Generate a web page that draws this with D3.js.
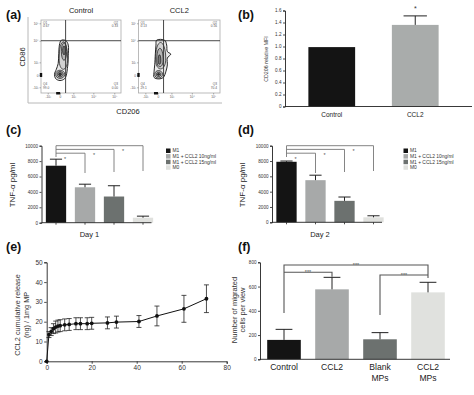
<!DOCTYPE html>
<html><head><meta charset="utf-8">
<script src="https://cdn.jsdelivr.net/npm/d3@7"></script>
<style>body{margin:0;background:#fff}svg{display:block;font-family:"Liberation Sans",Arial,sans-serif}</style>
</head><body><svg id="c" width="474" height="395"></svg>
<script>
// ---------- DATA ----------
// (a) flow cytometry
const flowSamples = ["Control", "CCL2"];
const flowTicks = [-1, 0, 1, 2, 3];
const flowTickLabels = ["-10³", "0", "10³", "10⁴", "10⁵"];
const flowGateX = 0.42, flowGateY = 2;
const flowQuadControl = ["Q1\n0.67", "Q2\n0.33", "Q3\n0.00", "Q4\n99.0"];
const flowQuadCCL2 = ["Q1\n0.13", "Q2\n0.56", "Q3\n70.4", "Q4\n29.1"];
const outlineControl = [[0.1,2.03],[0.45,2.0],[0.62,1.8],[0.62,1.3],[0.6,0.9],[0.55,0.5],[0.5,0.1],[0.35,-0.3],[0.0,-0.45],[-0.35,-0.3],[-0.45,0.05],[-0.3,0.45],[-0.15,0.9],[-0.1,1.4],[-0.05,1.8]];
const ringsControl = [[0.25,1.2,0.32,0.75],[0.3,1.5,0.2,0.4],[0.3,1.55,0.1,0.2],[0.0,0.05,0.36,0.33],[0.0,0.05,0.24,0.22],[0.0,0.05,0.11,0.11]];
const outlineCCL2 = [[-0.1,2.03],[0.5,2.03],[0.65,1.8],[0.7,1.5],[0.95,1.38],[0.7,1.2],[0.7,0.8],[0.6,0.3],[0.4,-0.2],[0.05,-0.32],[-0.3,-0.2],[-0.3,0.3],[-0.25,0.8],[-0.2,1.4],[-0.15,1.8]];
const ringsCCL2 = [[0.2,1.2,0.38,0.72],[0.15,1.15,0.24,0.5],[0.12,1.1,0.1,0.25],[0.05,0.05,0.3,0.3],[0.05,0.05,0.18,0.18],[0.05,0.05,0.08,0.08]];

// (b)
const bCats = ["Control", "CCL2"];
const bValues = [0.99, 1.36];
const bErr = [0, 0.15];
const bTicks = [0, 0.2, 0.4, 0.6, 0.8, 1.0, 1.2, 1.4, 1.6];

// (c) / (d)
const tnfGroups = ["M1", "M1 + CCL2 10ng/ml", "M1 + CCL2 15ng/ml", "M0"];
const day1Values = [7400, 4600, 3400, 650];
const day1Err = [850, 400, 1400, 200];
const day2Values = [7900, 5500, 2800, 650];
const day2Err = [100, 650, 500, 200];
const tnfTicks = [0, 2000, 4000, 6000, 8000, 10000];

// (e)
const eTime = [0, 1, 2, 3, 4, 5, 6, 8, 10, 13, 15, 18, 20, 27, 31, 41, 49, 61, 71];
const eRelease = [0, 13.5, 15, 16.5, 17.3, 17.8, 18, 18.4, 18.6, 19, 19, 19, 19.2, 19.4, 19.8, 20.1, 22.9, 26.5, 31.6];
const eSD = [0, 1.5, 2, 2.5, 3, 3, 3, 3, 3, 3, 3, 3, 3, 3, 3, 3, 5, 6.8, 7];
const eXTicks = [0, 20, 40, 60, 80];
const eYTicks = [0, 10, 20, 30, 40, 50];

// (f)
const fCats = [["Control"], ["CCL2"], ["Blank", "MPs"], ["CCL2", "MPs"]];
const fValues = [160, 577, 165, 552];
const fErr = [87, 99, 55, 83];
const fTicks = [0, 200, 400, 600, 800];

const barColors = ["#141414", "#a7a9a9", "#6c716f", "#e0e1de"];

// ---------- DRAW ----------
const svg = d3.select("#c");
svg.append("rect").attr("width", 474).attr("height", 395).attr("fill", "#fff");

function panelLabel(t, x, y) {
  svg.append("text").attr("x", x).attr("y", y).attr("font-size", 12.5).attr("font-weight", "bold").attr("fill", "#111").text(t);
}
panelLabel("(a)", 6, 19);
panelLabel("(b)", 238, 19);
panelLabel("(c)", 6, 134);
panelLabel("(d)", 238, 134);
panelLabel("(e)", 6, 251);
panelLabel("(f)", 238, 251);

// ---- (a) ----
const flowBoxes = [{x0: 41, x1: 121}, {x0: 138.5, x1: 220}];
const flowY0 = 20, flowY1 = 93;
const xFrac = [0.084, 0.2375, 0.404, 0.654, 0.916];
const yFrac = [0.078, 0.247, 0.42, 0.716, 0.955];
const line = d3.line().curve(d3.curveCatmullRomClosed.alpha(0.5));
svg.append("path").attr("d", `M28,17V103H222`).attr("fill", "none").attr("stroke", "#b8b8b8").attr("stroke-width", 1);
flowSamples.forEach((s, i) => {
  const b = flowBoxes[i];
  const xs = d3.scaleLinear().domain(flowTicks).range(xFrac.map(f => b.x0 + f * (b.x1 - b.x0)));
  const ys = d3.scaleLinear().domain(flowTicks).range(yFrac.map(f => flowY1 - f * (flowY1 - flowY0)));
  const g = svg.append("g");
  g.append("text").attr("x", (b.x0 + b.x1) / 2).attr("y", 13).attr("text-anchor", "middle").attr("font-size", 7.5).attr("fill", "#222").text(s);
  g.append("rect").attr("x", b.x0).attr("y", flowY0).attr("width", b.x1 - b.x0).attr("height", flowY1 - flowY0).attr("fill", "none").attr("stroke", "#aaa").attr("stroke-width", 0.8);
  const ax = g.append("g").attr("transform", `translate(0,${flowY1})`).call(d3.axisBottom(xs).tickValues(flowTicks).tickFormat((d, k) => flowTickLabels[k]).tickSize(1.5).tickPadding(1));
  const ay = g.append("g").attr("transform", `translate(${b.x0},0)`).call(d3.axisLeft(ys).tickValues(flowTicks).tickFormat((d, k) => flowTickLabels[k]).tickSize(1.5).tickPadding(1));
  [ax, ay].forEach(a => { a.select(".domain").remove(); a.selectAll("line").attr("stroke", "#666").attr("stroke-width", 0.5); a.selectAll("text").attr("font-size", 3.2).attr("fill", "#555"); });
  g.append("rect").attr("x", xs(-0.15) - 2).attr("y", flowY1 - 1).attr("width", 4).attr("height", 2.5).attr("fill", "#111");
  g.append("rect").attr("x", b.x0 - 1.2).attr("y", ys(0) - 2).attr("width", 2.4).attr("height", 4).attr("fill", "#111");
  const outline = i === 0 ? outlineControl : outlineCCL2;
  const rings = i === 0 ? ringsControl : ringsCCL2;
  g.append("path").attr("d", line(outline.map(p => [xs(p[0]), ys(p[1])]))).attr("fill", "#e9e9e9").attr("stroke", "#111").attr("stroke-width", 0.9);
  const fills = ["#d2d2d2", "#b5b5b5", "#7a7a7a", "#cfcfcf", "#a0a0a0", "#3a3a3a"];
  rings.forEach((r, k) => {
    const pts = d3.range(16).map(j => { const a = j / 16 * 2 * Math.PI; return [xs(r[0] + r[2] * Math.cos(a)), ys(r[1] + r[3] * Math.sin(a))]; });
    g.append("path").attr("d", line(pts)).attr("fill", fills[k]).attr("stroke", "#111").attr("stroke-width", 0.7);
  });
  g.append("line").attr("x1", xs(flowGateX)).attr("x2", xs(flowGateX)).attr("y1", flowY0).attr("y2", flowY1).attr("stroke", "#333").attr("stroke-width", 0.9);
  g.append("line").attr("x1", b.x0).attr("x2", b.x1).attr("y1", ys(flowGateY)).attr("y2", ys(flowGateY)).attr("stroke", "#333").attr("stroke-width", 0.9);
  const q = i === 0 ? flowQuadControl : flowQuadCCL2;
  const qpos = [[b.x0 + 2, flowY0 + 3.5, "start"], [b.x1 - 3, flowY0 + 3.5, "end"], [b.x1 - 3, flowY1 - 8, "end"], [b.x0 + 2, flowY1 - 8, "start"]];
  q.forEach((t, k) => {
    t.split("\n").forEach((ln, m) => {
      g.append("text").attr("x", qpos[k][0]).attr("y", qpos[k][1] + m * 3.6).attr("text-anchor", qpos[k][2]).attr("font-size", 3.2).attr("fill", "#555").text(ln);
    });
  });
});
svg.append("text").attr("transform", "translate(25,57) rotate(-90)").attr("text-anchor", "middle").attr("font-size", 7.5).attr("fill", "#222").text("CD86");
svg.append("text").attr("x", 128).attr("y", 114).attr("text-anchor", "middle").attr("font-size", 7.5).attr("fill", "#222").text("CD206");

// ---- generic helpers ----
function styleAxis(a, fs) {
  a.selectAll(".domain").attr("stroke", "#222").attr("stroke-width", 0.9);
  a.selectAll(".tick line").attr("stroke", "#222").attr("stroke-width", 0.8);
  a.selectAll("text").attr("font-size", fs).attr("fill", "#333");
}
function errorBars(g, x, y, cats, vals, errs, capFrac) {
  cats.forEach((c, i) => {
    if (!errs[i]) return;
    const cx = x(c) + x.bandwidth() / 2, cw = x.bandwidth() * capFrac;
    g.append("line").attr("x1", cx).attr("x2", cx).attr("y1", y(vals[i])).attr("y2", y(vals[i] + errs[i])).attr("stroke", "#222").attr("stroke-width", 1);
    g.append("line").attr("x1", cx - cw / 2).attr("x2", cx + cw / 2).attr("y1", y(vals[i] + errs[i])).attr("y2", y(vals[i] + errs[i])).attr("stroke", "#222").attr("stroke-width", 1);
  });
}

// ---- (b) ----
{
  const ax0 = 285, yb = d3.scaleLinear().domain([0, 1.6]).range([106.5, 10.5]);
  const xb = d3.scaleBand().domain(bCats).range([285, 462]).paddingInner(0.44).paddingOuter(0.28);
  const g = svg.append("g");
  g.selectAll("rect.bar").data(bCats).join("rect").attr("x", d => xb(d)).attr("width", xb.bandwidth())
    .attr("y", (d, i) => yb(bValues[i])).attr("height", (d, i) => yb(0) - yb(bValues[i])).attr("fill", (d, i) => i ? "#a9acab" : "#141414");
  errorBars(g, xb, yb, bCats, bValues, bErr, 0.5);
  const ay = g.append("g").attr("transform", `translate(${ax0},0)`).call(d3.axisLeft(yb).tickValues(bTicks).tickFormat(d => d === 0 ? "0" : d3.format(".1f")(d)).tickSize(2).tickPadding(1.5));
  styleAxis(ay, 4.6);
  g.append("line").attr("x1", ax0).attr("x2", 472).attr("y1", yb(0)).attr("y2", yb(0)).attr("stroke", "#222").attr("stroke-width", 0.9);
  bCats.forEach(c => {
    g.append("text").attr("x", xb(c) + xb.bandwidth() / 2).attr("y", 117).attr("text-anchor", "middle").attr("font-size", 6.5).attr("fill", "#222").text(c);
  });
  g.append("text").attr("x", xb("CCL2") + xb.bandwidth() / 2).attr("y", 11).attr("text-anchor", "middle").attr("font-size", 7).attr("fill", "#333").text("*");
  g.append("text").attr("transform", "translate(268,59) rotate(-90)").attr("text-anchor", "middle").attr("font-size", 5.3).attr("fill", "#333").text("CD206 relative MFI");
}

// ---- (c)/(d) ----
function tnfPanel(opts, vals, errs, dayLabel) {
  const y = d3.scaleLinear().domain([0, 10000]).range([opts.y0, 145.7]);
  const x = d3.scaleBand().domain(tnfGroups).range([opts.ax, opts.ax + 116]).paddingInner(0.3).paddingOuter(0.15);
  const g = svg.append("g");
  g.selectAll("rect.bar").data(tnfGroups).join("rect").attr("x", d => x(d)).attr("width", x.bandwidth())
    .attr("y", (d, i) => y(vals[i])).attr("height", (d, i) => y(0) - y(vals[i])).attr("fill", (d, i) => barColors[i]);
  errorBars(g, x, y, tnfGroups, vals, errs, 0.6);
  const ay = g.append("g").attr("transform", `translate(${opts.ax},0)`).call(d3.axisLeft(y).tickValues(tnfTicks).tickFormat(d3.format("d")).tickSize(2).tickPadding(1.5));
  styleAxis(ay, 4.6);
  const axb = g.append("g").attr("transform", `translate(0,${y(0)})`).call(d3.axisBottom(x).tickSize(2).tickFormat(""));
  styleAxis(axb, 4);
  axb.select(".domain").attr("d", `M${opts.ax},0H${opts.ax + 110}`);
  g.append("text").attr("x", opts.ax + 48).attr("y", 237).attr("text-anchor", "middle").attr("font-size", 7.5).attr("fill", "#222").text(dayLabel);
  g.append("text").attr("transform", `translate(${opts.ax - 27},185) rotate(-90)`).attr("text-anchor", "middle").attr("font-size", 8).attr("fill", "#222").text("TNF-α pg/ml");
  const c0 = x(tnfGroups[0]) + x.bandwidth() / 2;
  const tops = [145.7, 149.4, 153.2];
  [3, 2, 1].forEach((k, j) => {
    const ck = x(tnfGroups[k]) + x.bandwidth() / 2;
    g.append("path").attr("d", `M${c0},${tops[j]}H${ck}V${171 + j}`).attr("fill", "none").attr("stroke", "#777").attr("stroke-width", 0.9);
    g.append("text").attr("x", ck - 20).attr("y", tops[j] + 7.5).attr("text-anchor", "middle").attr("font-size", 5.5).attr("fill", "#555").text("*");
  });
  g.append("line").attr("x1", c0).attr("x2", c0).attr("y1", 145.7).attr("y2", 157).attr("stroke", "#777").attr("stroke-width", 0.9);
  tnfGroups.forEach((t, i) => {
    g.append("rect").attr("x", opts.lx).attr("y", 148.5 + i * 5.6).attr("width", 4.5).attr("height", 4.5).attr("fill", barColors[i]);
    g.append("text").attr("x", opts.lx + 6.5).attr("y", 152.4 + i * 5.6).attr("font-size", 4.9).attr("fill", "#333").text(t);
  });
}
tnfPanel({ax: 41.5, y0: 222.7, lx: 166}, day1Values, day1Err, "Day 1");
tnfPanel({ax: 272, y0: 222.3, lx: 403.5}, day2Values, day2Err, "Day 2");

// ---- (e) ----
{
  const x = d3.scaleLinear().domain([0, 80]).range([46.7, 226.7]);
  const y = d3.scaleLinear().domain([0, 50]).range([361.3, 262.3]);
  const g = svg.append("g");
  const ax = g.append("g").attr("transform", `translate(0,${y(0)})`).call(d3.axisBottom(x).tickValues(eXTicks).tickSize(2.5).tickPadding(2));
  styleAxis(ax, 6.5);
  const ay = g.append("g").attr("transform", `translate(${x(0)},0)`).call(d3.axisLeft(y).tickValues(eYTicks).tickSize(2.5).tickPadding(1.5));
  styleAxis(ay, 6.5);
  eTime.forEach((t, i) => {
    if (!eSD[i]) return;
    g.append("line").attr("x1", x(t)).attr("x2", x(t)).attr("y1", y(eRelease[i] - eSD[i])).attr("y2", y(eRelease[i] + eSD[i])).attr("stroke", "#222").attr("stroke-width", 0.8);
    [eRelease[i] - eSD[i], eRelease[i] + eSD[i]].forEach(v => g.append("line").attr("x1", x(t) - 2.5).attr("x2", x(t) + 2.5).attr("y1", y(v)).attr("y2", y(v)).attr("stroke", "#222").attr("stroke-width", 0.8));
  });
  g.append("path").attr("d", d3.line().x((d, i) => x(eTime[i])).y((d, i) => y(eRelease[i]))(eTime)).attr("fill", "none").attr("stroke", "#111").attr("stroke-width", 1);
  g.selectAll("circle").data(eTime).join("circle").attr("cx", d => x(d)).attr("cy", (d, i) => y(eRelease[i])).attr("r", 1.9).attr("fill", "#111");
  const lab = g.append("text").attr("transform", "translate(22,315) rotate(-90)").attr("text-anchor", "middle").attr("font-size", 7.3).attr("fill", "#333");
  lab.append("tspan").attr("x", 0).attr("dy", -2.5).text("CCL2 cumulative release");
  lab.append("tspan").attr("x", 0).attr("dy", 9.5).text("(ng) / 1mg MP");
}

// ---- (f) ----
{
  const y = d3.scaleLinear().domain([0, 800]).range([359.3, 262.3]);
  const keys = fCats.map(d => d.join(" "));
  const x = d3.scaleBand().domain(keys).range([260, 452]).paddingInner(0.3).paddingOuter(0.15);
  const g = svg.append("g");
  g.selectAll("rect.bar").data(keys).join("rect").attr("x", d => x(d)).attr("width", x.bandwidth())
    .attr("y", (d, i) => y(fValues[i])).attr("height", (d, i) => y(0) - y(fValues[i])).attr("fill", (d, i) => barColors[i]);
  errorBars(g, x, y, keys, fValues, fErr, 0.5);
  const ay = g.append("g").attr("transform", `translate(260,0)`).call(d3.axisLeft(y).tickValues(fTicks).tickSize(2).tickPadding(1.5));
  styleAxis(ay, 4.6);
  g.append("line").attr("x1", 260).attr("x2", 450).attr("y1", y(0)).attr("y2", y(0)).attr("stroke", "#222").attr("stroke-width", 0.9);
  fCats.forEach((lines, i) => {
    lines.forEach((t, m) => g.append("text").attr("x", x(keys[i]) + x.bandwidth() / 2).attr("y", 370 + m * 11).attr("text-anchor", "middle").attr("font-size", 8.6).attr("fill", "#222").text(t));
  });
  const cx = k => x(keys[k]) + x.bandwidth() / 2;
  const st = {fill: "none", stroke: "#555", "stroke-width": 1.1};
  const P = d => { const p = g.append("path").attr("d", d); Object.entries(st).forEach(([k, v]) => p.attr(k, v)); };
  P(`M${cx(0)},313V265H${cx(3)}V278`);
  P(`M${cx(0)},272.3H${cx(1)}V276.7`);
  P(`M${cx(2)},315V275H${cx(3)}`);
  [[ (cx(0) + cx(3)) / 2, 266.5], [(cx(0) + cx(1)) / 2, 273.8], [(cx(2) + cx(3)) / 2, 276.5]].forEach(p => {
    g.append("text").attr("x", p[0]).attr("y", p[1]).attr("text-anchor", "middle").attr("font-size", 5.5).attr("fill", "#555").text("***");
  });
  const lab = g.append("text").attr("transform", "translate(237.5,310) rotate(-90)").attr("text-anchor", "middle").attr("font-size", 7.5).attr("fill", "#333");
  lab.append("tspan").attr("x", 0).attr("dy", -1).text("Number of migrated");
  lab.append("tspan").attr("x", 0).attr("dy", 8.5).text("cells per view");
}
</script></body></html>
